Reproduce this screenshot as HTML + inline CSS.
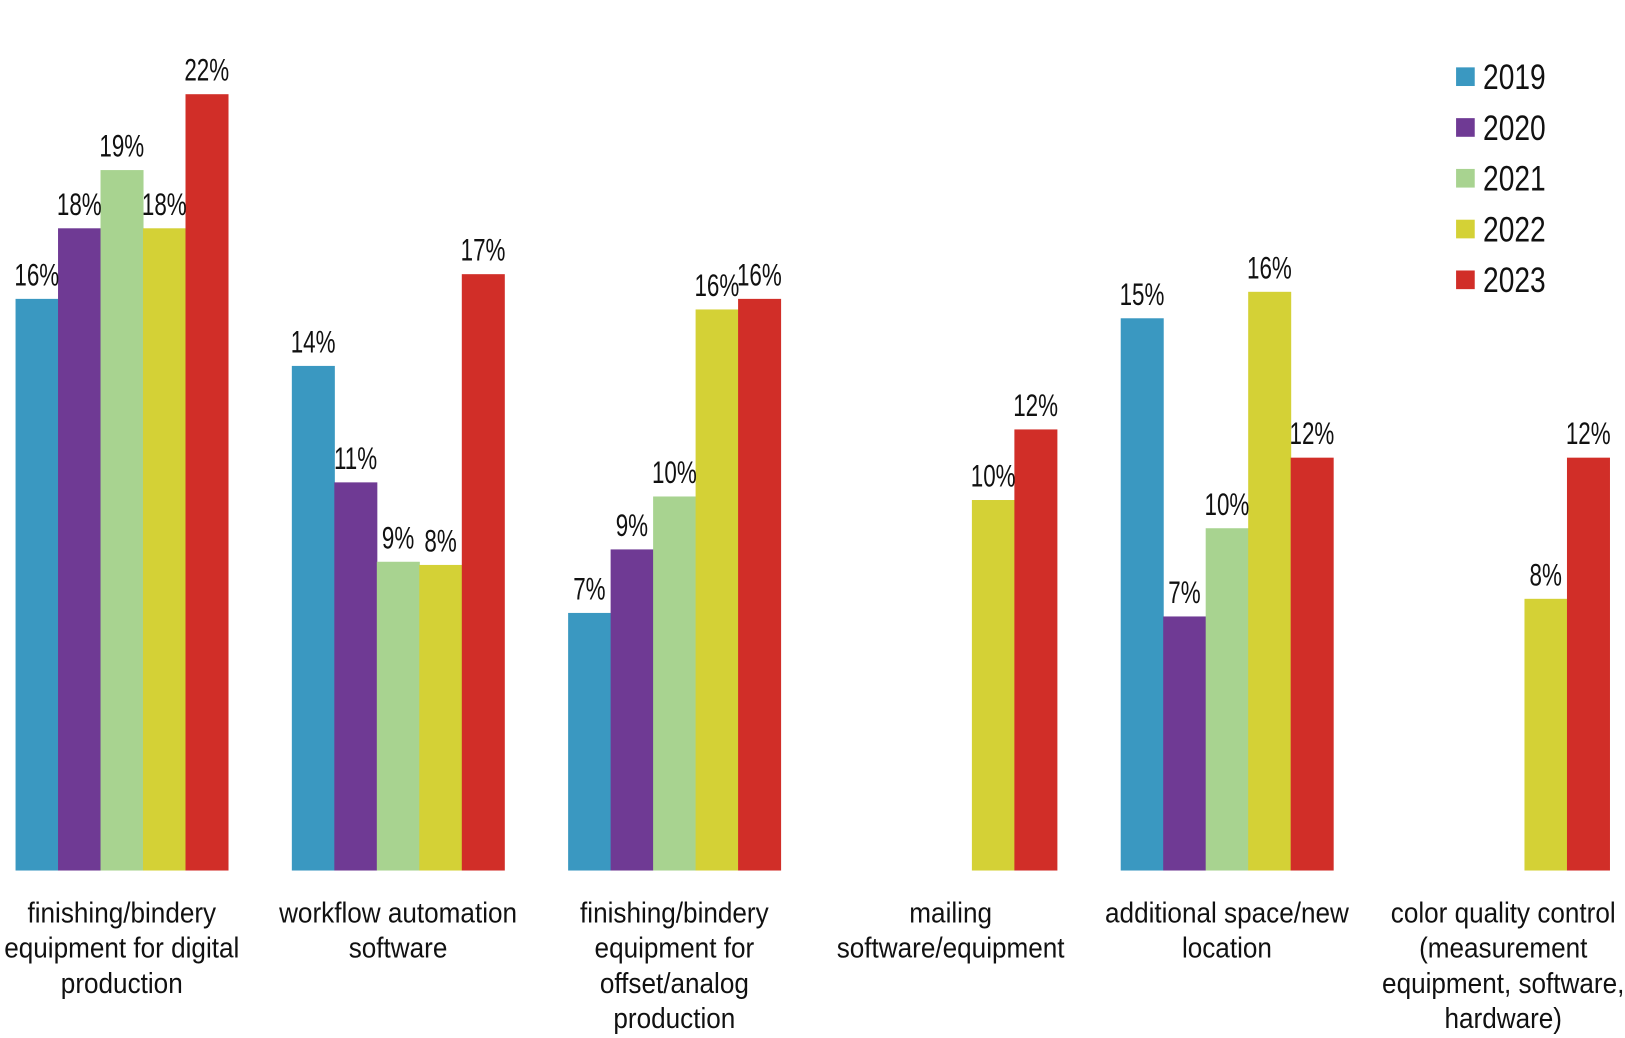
<!DOCTYPE html>
<html><head><meta charset="utf-8">
<style>
html,body{margin:0;padding:0;background:#fff;}
svg{display:block;}
text{font-family:"Liberation Sans Narrow","Liberation Sans",sans-serif;fill:#111;}
</style></head>
<body>
<svg id="chart" width="1625" height="1038" viewBox="0 0 1568 1001.6" preserveAspectRatio="none" xmlns="http://www.w3.org/2000/svg">
<g id="bars"></g>
<g id="vals"></g>
<g id="cats"></g>
<g id="legend"></g>
</svg>
<script>
const categories = [
  ["finishing/bindery","equipment for digital","production"],
  ["workflow automation","software"],
  ["finishing/bindery","equipment for","offset/analog","production"],
  ["mailing","software/equipment"],
  ["additional space/new","location"],
  ["color quality control","(measurement","equipment, software,","hardware)"]
];
const years = ["2019","2020","2021","2022","2023"];
const colors = ["#3a98c1","#6f3a94","#a8d390","#d4d136","#d12e28"];
const s2019 = [16.2, 14.3, 7.3, null, 15.65, null];
const s2020 = [18.2, 11.0, 9.1, null, 7.2, null];
const s2021 = [19.85, 8.75, 10.6, null, 9.7, null];
const s2022 = [18.2, 8.66, 15.9, 10.5, 16.4, 7.7];
const s2023 = [22.0, 16.9, 16.2, 12.5, 11.7, 11.7];
const l2019 = ["16%","14%","7%","","15%",""];
const l2020 = ["18%","11%","9%","","7%",""];
const l2021 = ["19%","9%","10%","","10%",""];
const l2022 = ["18%","8%","16%","10%","16%","8%"];
const l2023 = ["22%","17%","16%","12%","12%","12%"];
const series = [s2019,s2020,s2021,s2022,s2023];
const labels = [l2019,l2020,l2021,l2022,l2023];

const NS="http://www.w3.org/2000/svg";
const baseY=840, pxPer=34.05, groupStart=15, groupStep=266.6, barW=41;
const yScale = v => baseY - v*pxPer;
const xBar = (g,s) => groupStart + g*groupStep + s*barW;
function mk(tag, attrs, parent){const e=document.createElementNS(NS,tag);for(const k in attrs)e.setAttribute(k,attrs[k]);parent.appendChild(e);return e;}
const bars=document.getElementById('bars'), vals=document.getElementById('vals'), cats=document.getElementById('cats'), leg=document.getElementById('legend');
series.forEach((arr,s)=>{
  arr.forEach((v,g)=>{
    if(v==null) return;
    const r=mk('rect',{x:xBar(g,s),y:yScale(v),width:barW+0.5,height:baseY-yScale(v),fill:colors[s]},bars);
    
    
    const t=mk('text',{x:0,y:0,'text-anchor':'middle','font-size':30,transform:'translate('+(xBar(g,s)+barW/2)+','+(yScale(v)-13)+') scale(0.72,1)'},vals);
    t.textContent=labels[s][g];
    
    
  });
});
categories.forEach((lines,g)=>{
  const cx=groupStart+g*groupStep+2.5*barW;
  lines.forEach((ln,i)=>{
    const t=mk('text',{x:0,y:0,'text-anchor':'middle','font-size':28,transform:'translate('+cx+','+(890+i*34)+') scale(0.9,1)'},cats);
    t.textContent=ln;
    
    
  });
});
years.forEach((y,i)=>{
  const r=mk('rect',{x:1405,y:65+i*49,width:18,height:18,fill:colors[i]},leg);
  
  
  const t=mk('text',{x:0,y:0,'font-size':34,transform:'translate(1431,'+(86+i*49)+') scale(0.8,1)'},leg);
  t.textContent=y;
  
  
});
</script>
</body></html>
